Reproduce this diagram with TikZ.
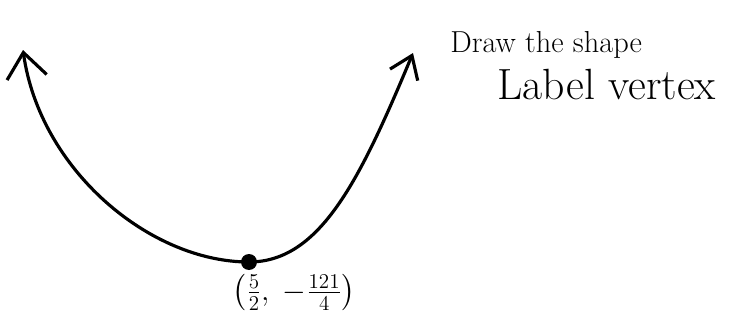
\documentclass[tikz,border=0pt]{standalone}
\usepackage{amsmath}
\usepackage{tikz}
\usetikzlibrary{arrows.meta, positioning}

\begin{document}
\begin{tikzpicture}[x=0.02cm, y=-0.02cm]
    \tikzstyle{curva} = [line width=1.8pt, line cap=round, line join=round]
    \tikzstyle{ponto} = [circle, fill=black, inner sep=0pt, minimum size=0.32cm]
    \tikzstyle{nota} = [font=\LARGE, inner sep=0pt]

    \useasboundingbox (0,0) rectangle (731,321);

    \coordinate (ltip) at (23,50);
    \coordinate (rtip) at (413,53);
    \node (vtx) [ponto] at (249,262) {};
    \node (vlab) [font=\LARGE, inner sep=0pt, below right=0.12cm and -0.45cm of vtx]
        {$\left(\frac{5}{2},\;-\frac{121}{4}\right)$};

    \node (draw) [nota, anchor=west] at (450,45) {Draw the shape};
    \node (label) [nota, font=\Huge, below right=0.2cm and -2.9cm of draw] {Label vertex};

    % parabola com as duas pontas abertas
    \draw [curva, arrows={Straight Barb[length=0.5cm, width=0.8cm]-Straight Barb[length=0.42cm, width=0.6cm]}]
        (ltip) .. controls (40,170) and (150,262) .. (vtx.center)
        .. controls (320,262) and (360,180) .. (rtip);
\end{tikzpicture}
\end{document}
